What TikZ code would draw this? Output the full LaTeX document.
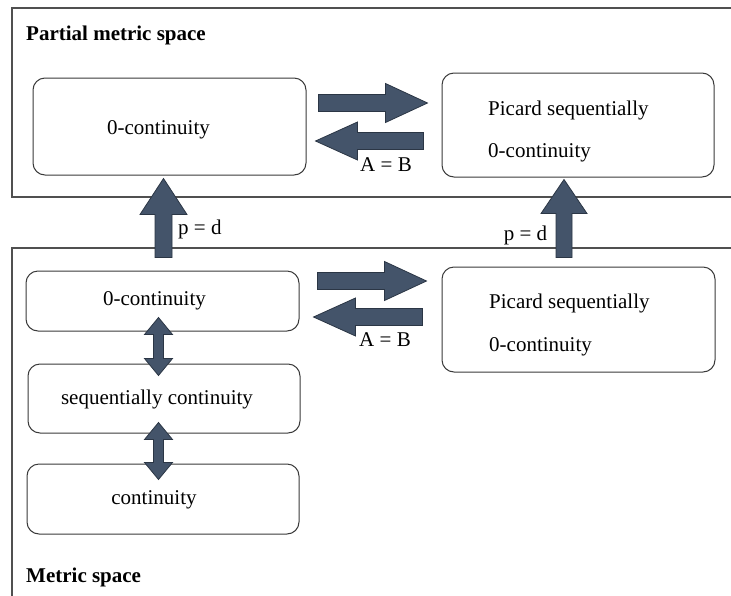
\documentclass[tikz,border=0pt]{standalone}
\usepackage{fontspec}
\setmainfont{Liberation Serif}
\usetikzlibrary{calc}
\definecolor{slate}{HTML}{44546A}
\definecolor{edge}{HTML}{2B3645}
\definecolor{boxline}{HTML}{3A3A3A}
\definecolor{frameline}{HTML}{505050}

\begin{document}
\begin{tikzpicture}[
  x=1pt,y=-1pt,
  frame/.style={draw=frameline,line width=1.2pt},
  box/.style={draw=boxline,fill=white,rounded corners=12pt,line width=1pt},
  txt/.style={font=\fontsize{21}{25}\selectfont,text=black,inner sep=0pt},
  title/.style={font=\bfseries\fontsize{21}{25}\selectfont,anchor=west,inner sep=0pt},
  fat/.style n args={3}{draw=edge,fill=slate,line width=.8pt,line join=miter,
    to path={let \p1=($(\tikztotarget)!#3!(\tikztostart)$) in
      ($(\tikztostart)!#1!90:(\tikztotarget)$)
      -- ($(\p1)!#1!90:(\tikztotarget)$) -- ($(\p1)!#2!90:(\tikztotarget)$)
      -- (\tikztotarget)
      -- ($(\p1)!#2!-90:(\tikztotarget)$) -- ($(\p1)!#1!-90:(\tikztotarget)$)
      -- ($(\tikztostart)!#1!-90:(\tikztotarget)$) -- cycle}},
  dfat/.style n args={3}{draw=edge,fill=slate,line width=.8pt,line join=miter,
    to path={let \p1=($(\tikztostart)!#3!(\tikztotarget)$),
                 \p2=($(\tikztotarget)!#3!(\tikztostart)$) in
      (\tikztostart)
      -- ($(\p1)!#2!90:(\tikztotarget)$) -- ($(\p1)!#1!90:(\tikztotarget)$)
      -- ($(\p2)!#1!90:(\tikztotarget)$) -- ($(\p2)!#2!90:(\tikztotarget)$)
      -- (\tikztotarget)
      -- ($(\p2)!#2!-90:(\tikztotarget)$) -- ($(\p2)!#1!-90:(\tikztotarget)$)
      -- ($(\p1)!#1!-90:(\tikztotarget)$) -- ($(\p1)!#2!-90:(\tikztotarget)$)
      -- cycle}}
]
\useasboundingbox (0,0) rectangle (731,595);

% 1. The two spaces.
\draw[frame] (740,8) -| (12,197) -- (740,197);
\draw[frame] (740,248) -| (12,600);
\node[title] (ptitle) at (26,35) {Partial metric space};
\node[title] (mtitle) at (26,577) {Metric space};

% 2. Partial metric boxes.
\node[box,minimum width=273pt,minimum height=97pt] (ptop0) at (169.5,126.5) {};
\node[txt] at (158.5,130) {0-continuity};
\node[box,minimum width=272pt,minimum height=104pt] (ptopP) at (578,125) {};
\node[txt,anchor=west] at (488,110) {Picard sequentially};
\node[txt,anchor=west] at (488,153) {0-continuity};

% 3. Metric boxes.
\node[box,minimum width=273pt,minimum height=60pt] (m0) at (162.5,301) {};
\node[txt] at (154.5,301) {0-continuity};
\node[box,minimum width=273pt,minimum height=105pt] (mP) at (578.5,319.5) {};
\node[txt,anchor=west] at (489,303) {Picard sequentially};
\node[txt,anchor=west] at (489,347) {0-continuity};
\node[box,minimum width=272pt,minimum height=69pt] (mseq) at (164,398.5) {};
\node[txt] at (157,399) {sequentially continuity};
\node[box,minimum width=272pt,minimum height=70pt] (mcont) at (163,499) {};
\node[txt] at (154,500) {continuity};

% 4. Block arrows.
\draw[fat={8.5pt}{19.5pt}{42pt}] ($(ptop0.east)+(12,-23.5)$) to ($(ptopP.west |- ptop0.east)+(-14,-23.5)$);
\draw[fat={8.5pt}{19pt}{42pt}] ($(ptopP.west |- ptop0.east)+(-18,14.5)$) to ($(ptop0.east)+(9,14.5)$);
\node[txt] at (386,165) {A = B};
\draw[fat={8.5pt}{19.5pt}{42pt}] ($(m0.east)+(18,-20)$) to ($(mP.west |- m0.east)+(-15,-20)$);
\draw[fat={8.5pt}{19pt}{42pt}] ($(mP.west |- m0.east)+(-19,16)$) to ($(m0.east)+(14,16)$);
\node[txt] at (385,340) {A = B};

\draw[fat={8.5pt}{23.5pt}{36pt}] ($(m0.north)+(1,-13)$) to ($(m0.north |- ptop0.south)+(1,3)$);
\node[txt,anchor=west] at (178,229) {p = d};
\draw[fat={8pt}{23pt}{34pt}] ($(mP.north)+(-14.5,-9)$) to ($(mP.north |- ptopP.south)+(-14.5,2)$);
\node[txt] at (525.5,235) {p = d};

\draw[dfat={5pt}{14pt}{17pt}] ($(m0.south)+(-4,-14)$) to ($(mseq.north)+(-5.5,12)$);
\draw[dfat={5pt}{14pt}{17pt}] ($(mseq.south)+(-5.5,-11)$) to ($(mcont.north)+(-4.5,16)$);

\end{tikzpicture}
\end{document}
